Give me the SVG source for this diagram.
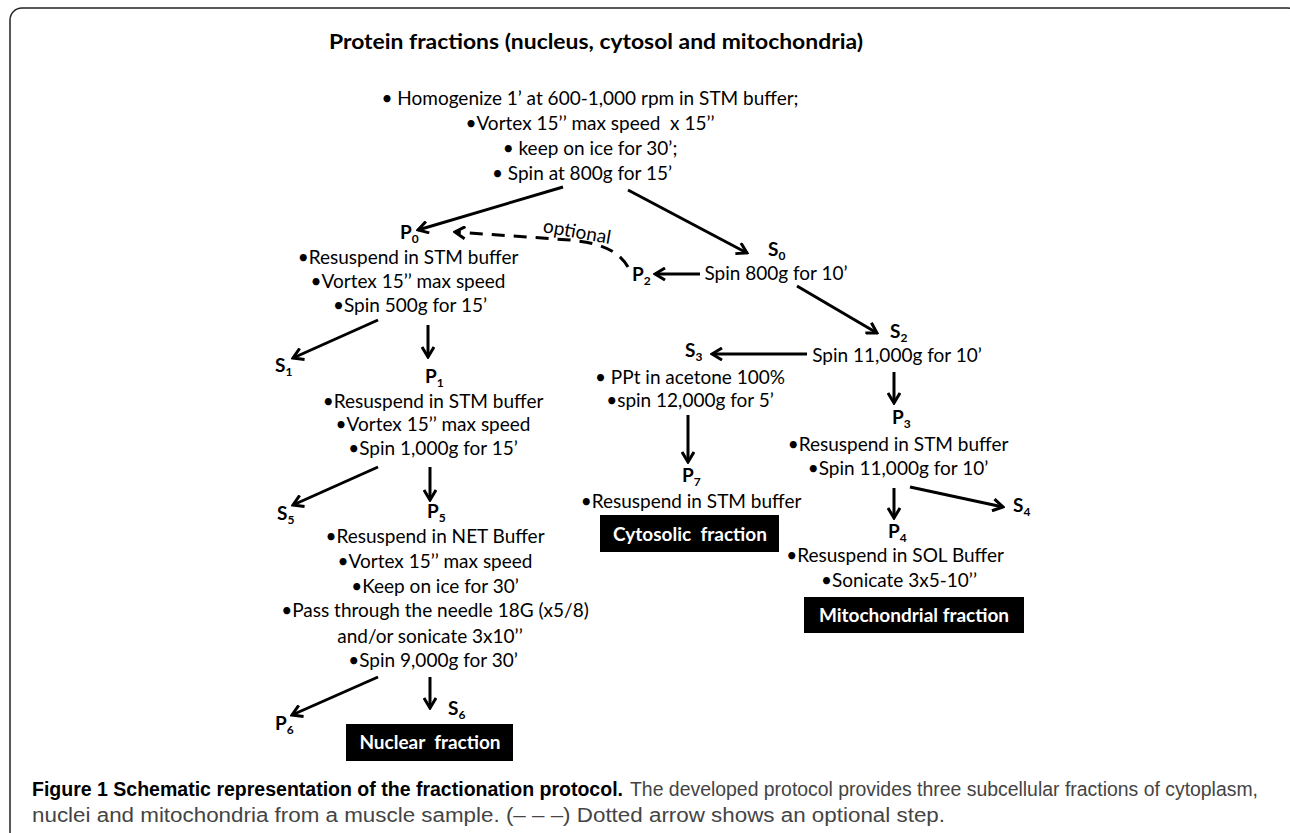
<svg xmlns="http://www.w3.org/2000/svg" width="1290" height="833" viewBox="0 0 1290 833">
<style>
.t{font-family:Lato,"Liberation Sans",sans-serif;font-size:19px;fill:#000}
.c{text-anchor:middle}
.pre{white-space:pre}
.lbl{font-family:Lato,"Liberation Sans",sans-serif;font-size:19px;font-weight:bold;fill:#000}
.sub{font-size:12px}
.box{fill:#000}
.bt{font-family:Lato,"Liberation Sans",sans-serif;font-size:19px;font-weight:bold;fill:#fff;text-anchor:middle;white-space:pre}
.arr{stroke:#000;stroke-width:3;fill:none;marker-end:url(#ah)}
.dash{stroke-dasharray:13 9}
.cap{font-family:"Liberation Sans",sans-serif;font-size:20px}
</style>
<defs>
<marker id="ah" markerUnits="userSpaceOnUse" viewBox="0 0 14 14" refX="12" refY="7" markerWidth="14" markerHeight="14" orient="auto">
<path d="M2,1 L12,7 L2,13" fill="none" stroke="#000" stroke-width="3"/>
</marker>
</defs>
<rect x="0" y="0" width="1290" height="833" fill="#fff"/>
<rect x="10" y="8" width="1290" height="836" rx="12" fill="none" stroke="#222" stroke-width="1.5"/>

<g id="title"><text class="lbl" x="329" y="49" style="font-size:21px" textLength="534" lengthAdjust="spacingAndGlyphs">Protein fractions (nucleus, cytosol and mitochondria)</text></g>

<g id="start">
<text class="t c" x="590" y="105">• Homogenize 1’ at 600-1,000 rpm in STM buffer;</text>
<text class="t c pre" x="590" y="130">•Vortex 15’’ max speed  x 15’’</text>
<text class="t c" x="590" y="155">• keep on ice for 30’;</text>
<text class="t c" x="582" y="180">• Spin at 800g for 15’</text>
</g>

<g id="P0">
<text class="lbl" x="400" y="239">P<tspan class="sub" dy="4">0</tspan></text>
<text class="t c" x="408" y="264">•Resuspend in STM buffer</text>
<text class="t c" x="408" y="288">•Vortex 15’’ max speed</text>
<text class="t c" x="410" y="312">•Spin 500g for 15’</text>
</g>
<g id="S1"><text class="lbl" x="275" y="372">S<tspan class="sub" dy="4">1</tspan></text></g>
<g id="P1">
<text class="lbl" x="425" y="383">P<tspan class="sub" dy="4">1</tspan></text>
<text class="t c" x="433" y="408">•Resuspend in STM buffer</text>
<text class="t c" x="433" y="431">•Vortex 15’’ max speed</text>
<text class="t c" x="433" y="455">•Spin 1,000g for 15’</text>
</g>
<g id="S5"><text class="lbl" x="277" y="520">S<tspan class="sub" dy="4">5</tspan></text></g>
<g id="P5">
<text class="lbl" x="427" y="518">P<tspan class="sub" dy="4">5</tspan></text>
<text class="t c" x="435" y="543">•Resuspend in NET Buffer</text>
<text class="t c" x="435" y="568">•Vortex 15’’ max speed</text>
<text class="t c" x="435" y="593">•Keep on ice for 30’</text>
<text class="t c" x="435" y="617">•Pass through the needle 18G (x5/8)</text>
<text class="t c" x="430" y="643">and/or sonicate 3x10’’</text>
<text class="t c" x="433" y="667">•Spin 9,000g for 30’</text>
</g>
<g id="P6"><text class="lbl" x="275" y="730">P<tspan class="sub" dy="4">6</tspan></text></g>
<g id="S6"><text class="lbl" x="448" y="715">S<tspan class="sub" dy="4">6</tspan></text></g>
<g id="nuclear">
<rect class="box" x="346" y="724" width="167" height="37"/>
<text class="bt" x="430" y="749">Nuclear  fraction</text>
</g>

<g id="S0">
<text class="lbl" x="768" y="256">S<tspan class="sub" dy="4">0</tspan></text>
<text class="t c" x="776" y="280">Spin 800g for 10’</text>
</g>
<g id="P2"><text class="lbl" x="632" y="281">P<tspan class="sub" dy="4">2</tspan></text></g>
<g id="S2">
<text class="lbl" x="890" y="338">S<tspan class="sub" dy="4">2</tspan></text>
<text class="t c" x="897" y="362">Spin 11,000g for 10’</text>
</g>
<g id="S3">
<text class="lbl" x="685" y="357">S<tspan class="sub" dy="4">3</tspan></text>
<text class="t c" x="690" y="384">• PPt in acetone 100%</text>
<text class="t c" x="690" y="407">•spin 12,000g for 5’</text>
</g>
<g id="P7">
<text class="lbl" x="682" y="482">P<tspan class="sub" dy="4">7</tspan></text>
<text class="t c" x="691" y="508">•Resuspend in STM buffer</text>
</g>
<g id="cytosolic">
<rect class="box" x="600" y="515" width="179" height="37"/>
<text class="bt" x="690" y="541">Cytosolic  fraction</text>
</g>
<g id="P3">
<text class="lbl" x="892" y="424">P<tspan class="sub" dy="4">3</tspan></text>
<text class="t c" x="898" y="451">•Resuspend in STM buffer</text>
<text class="t c" x="898" y="475">•Spin 11,000g for 10’</text>
</g>
<g id="S4"><text class="lbl" x="1013" y="512">S<tspan class="sub" dy="4">4</tspan></text></g>
<g id="P4">
<text class="lbl" x="888" y="538">P<tspan class="sub" dy="4">4</tspan></text>
<text class="t c" x="895" y="562">•Resuspend in SOL Buffer</text>
<text class="t c" x="899" y="587">•Sonicate 3x5-10’’</text>
</g>
<g id="mitochondrial">
<rect class="box" x="804" y="597" width="220" height="36"/>
<text class="bt" x="914" y="622">Mitochondrial fraction</text>
</g>

<g id="connectors">
<line class="arr" x1="563" y1="187" x2="418" y2="230"/>
<line class="arr" x1="628" y1="190" x2="747" y2="253"/>
<path class="arr dash" d="M628,267 C618,250 600,243 570,240 L455,232"/>
<text class="t" x="0" y="0" transform="translate(576,238) rotate(10)" text-anchor="middle">optional</text>
<line class="arr" x1="700" y1="274" x2="655" y2="274"/>
<line class="arr" x1="797" y1="286" x2="877" y2="333"/>
<line class="arr" x1="807" y1="354" x2="712" y2="354"/>
<line class="arr" x1="894" y1="372" x2="894" y2="403"/>
<line class="arr" x1="688" y1="415" x2="688" y2="462"/>
<line class="arr" x1="894" y1="488" x2="894" y2="518"/>
<line class="arr" x1="910" y1="487" x2="1003" y2="507"/>
<line class="arr" x1="378" y1="320" x2="293" y2="358"/>
<line class="arr" x1="428" y1="325" x2="428" y2="357"/>
<line class="arr" x1="378" y1="467" x2="293" y2="505"/>
<line class="arr" x1="430" y1="467" x2="430" y2="500"/>
<line class="arr" x1="378" y1="677" x2="292" y2="715"/>
<line class="arr" x1="430" y1="677" x2="430" y2="708"/>
</g>

<g id="caption">
<text class="cap" x="32" y="796" font-weight="bold" textLength="591" lengthAdjust="spacingAndGlyphs">Figure 1 Schematic representation of the fractionation protocol.</text>
<text class="cap" x="630" y="796" fill="#444" textLength="628" lengthAdjust="spacingAndGlyphs">The developed protocol provides three subcellular fractions of cytoplasm,</text>
<text class="cap" x="32" y="822" fill="#444" textLength="913" lengthAdjust="spacingAndGlyphs">nuclei and mitochondria from a muscle sample. (– – –) Dotted arrow shows an optional step.</text>
</g>
</svg>
